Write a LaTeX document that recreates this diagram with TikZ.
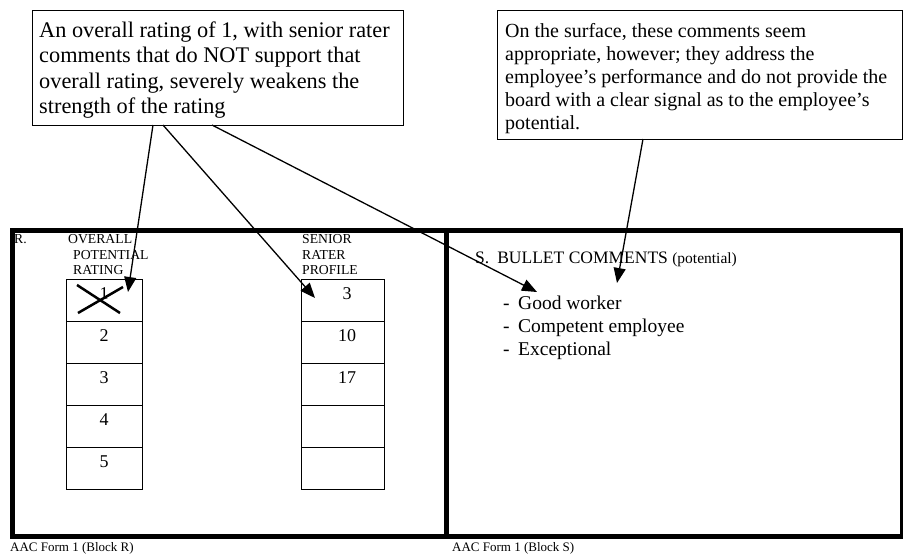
\documentclass[tikz,border=0pt]{standalone}
\usepackage{fontspec}
\setmainfont{Liberation Serif}
\usetikzlibrary{arrows.meta}
\begin{document}
\begin{tikzpicture}[x=1pt,y=-1pt,
  box/.style={draw, line width=1.3pt, inner sep=0pt, anchor=north west},
  blk/.style={draw, line width=5pt, inner sep=0pt, anchor=north west, minimum height=306pt},
  cell/.style={draw, line width=1.4pt, minimum height=42pt, inner sep=0pt, anchor=north west},
  lcell/.style={cell, minimum width=76pt},
  rcell/.style={cell, minimum width=83pt},
  ptr/.style={line width=1.3pt, -{Triangle[length=15pt,width=12pt]}},
  body/.style={font=\fontsize{20}{23}\selectfont, anchor=base west, inner sep=0pt},
  bigbody/.style={font=\fontsize{22.3}{25.5}\selectfont, anchor=base west, inner sep=0pt},
  lab/.style={font=\fontsize{13.7}{15}\selectfont, anchor=base west, inner sep=0pt},
  num/.style={font=\fontsize{18}{20}\selectfont, anchor=base, inner sep=0pt},
  foot/.style={font=\fontsize{13}{15}\selectfont, anchor=base west, inner sep=0pt},
  bullet/.style={font=\fontsize{19.5}{23}\selectfont, anchor=base west, inner sep=0pt},
  xmark/.style={line width=2.5pt}
]
\useasboundingbox (0,0) rectangle (903,554);
\fill[white] (0,0) rectangle (903,554);

% callout boxes
\node[box, minimum width=371pt, minimum height=115pt] (c1box) at (32,10) {};
\node[bigbody] (c1a) at (39,37) {An overall rating of 1, with senior rater};
\node[bigbody] (c1b) at (39,62.5) {comments that do NOT support that};
\node[bigbody] (c1c) at (39,88) {overall rating, severely weakens the};
\node[bigbody] (c1d) at (39,113.5) {strength of the rating};

\node[box, minimum width=405pt, minimum height=129pt] (c2box) at (497,10) {};
\node[body] (c2a) at (505,37) {On the surface, these comments seem};
\node[body] (c2b) at (505,60) {appropriate, however; they address the};
\node[body] (c2c) at (505,83) {employee’s performance and do not provide the};
\node[body] (c2d) at (505,106) {board with a clear signal as to the employee’s};
\node[body] (c2e) at (505,129) {potential.};

% blocks
\node[blk, minimum width=434pt] (blockR) at (10,228) {};
\node[blk, minimum width=456pt] (blockS) at (444,228) {};

% labels block R
\node[lab] (rlab) at (14,243.5) {R.};
\node[lab] (ov1) at (68,243.5) {OVERALL};
\node[lab] (ov2) at (73,259.5) {POTENTIAL};
\node[lab] (ov3) at (73,274.5) {RATING};
\node[lab] (sr1) at (302,243.5) {SENIOR};
\node[lab] (sr2) at (302,259.5) {RATER};
\node[lab] (sr3) at (302,274.5) {PROFILE};

% left column
\node[lcell] (L1) at (66,279) {};
\node[lcell] (L2) at (66,321) {};
\node[lcell] (L3) at (66,363) {};
\node[lcell] (L4) at (66,405) {};
\node[lcell] (L5) at (66,447) {};
\node[num] (nl1) at (104,299) {1};
\node[num] (nl2) at (104,341) {2};
\node[num] (nl3) at (104,383) {3};
\node[num] (nl4) at (104,425) {4};
\node[num] (nl5) at (104,467) {5};
\draw[xmark] (77,285) -- (120,313);
\draw[xmark] (78,313) -- (123,287);

% right column
\node[rcell] (R1) at (301,279) {};
\node[rcell] (R2) at (301,321) {};
\node[rcell] (R3) at (301,363) {};
\node[rcell] (R4) at (301,405) {};
\node[rcell] (R5) at (301,447) {};
\node[num] (nr1) at (347,299) {3};
\node[num] (nr2) at (347,341) {10};
\node[num] (nr3) at (347,383) {17};

% block S
\node[anchor=base west, inner sep=0pt] (shead) at (475,263)
  {\fontsize{17.5}{20}\selectfont S.\hspace{8pt}BULLET COMMENTS {\fontsize{15.5}{18}\selectfont(potential)}};
\node[bullet] (b1d) at (503,309) {-};
\node[bullet] (b1) at (518,309) {Good worker};
\node[bullet] (b2d) at (503,332) {-};
\node[bullet] (b2) at (518,332) {Competent employee};
\node[bullet] (b3d) at (503,355) {-};
\node[bullet] (b3) at (518,355) {Exceptional};

% footers
\node[foot] (fR) at (10,551) {AAC Form 1 (Block R)};
\node[foot] (fS) at (452,551) {AAC Form 1 (Block S)};

% arrows
\coordinate (s1) at (153,125);
\coordinate (s2) at (163,125);
\coordinate (s3) at (212,125);
\coordinate (s4) at (643,139);
\coordinate (t1) at (128,292);
\coordinate (t2) at (315,298);
\coordinate (t3) at (537,292);
\coordinate (t4) at (617,283);
\draw[ptr] (s1) -- (t1);
\draw[ptr] (s2) -- (t2);
\draw[ptr] (s3) -- (t3);
\draw[ptr] (s4) -- (t4);
\end{tikzpicture}
\end{document}
